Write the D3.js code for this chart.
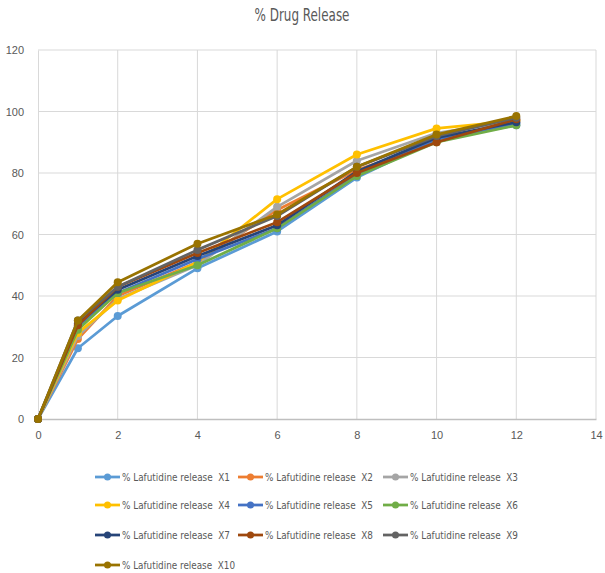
<!DOCTYPE html>
<html>
<head>
<meta charset="utf-8">
<script src="https://cdn.jsdelivr.net/npm/d3@7"></script>
<style>
  body { margin: 0; background: #fff; }
  svg { font-family: "DejaVu Sans", sans-serif; font-stretch: condensed; }
</style>
</head>
<body>
<svg width="605" height="573"></svg>
<script>
// time points (h)
var times = [0, 1, 2, 4, 6, 8, 10, 12];

var seriesNames = [
  "% Lafutidine release  X1", "% Lafutidine release  X2", "% Lafutidine release  X3",
  "% Lafutidine release  X4", "% Lafutidine release  X5", "% Lafutidine release  X6",
  "% Lafutidine release  X7", "% Lafutidine release  X8", "% Lafutidine release  X9",
  "% Lafutidine release  X10"
];

var x1 = [0, 23, 33.5, 49, 61, 78.5, 91, 95.5];
var x2 = [0, 26, 40, 51, 68, 81, 90, 97];
var x3 = [0, 27, 39, 50, 69, 84, 93, 97];
var x4 = [0, 28, 38.5, 51, 71.5, 86, 94.5, 97];
var x5 = [0, 30, 41, 52, 62, 79.5, 91, 96];
var x6 = [0, 29, 41, 50, 62, 79, 90, 95.5];
var x7 = [0, 31, 42, 53, 63, 80.5, 91.5, 96.5];
var x8 = [0, 30.5, 43, 54, 64, 80, 90, 97.5];
var x9 = [0, 32, 43, 55, 66, 82, 92, 98];
var x10 = [0, 32, 44.5, 57, 66.5, 82, 92.5, 98.5];

var allValues = [x1, x2, x3, x4, x5, x6, x7, x8, x9, x10];

var colors = ["#5B9BD5", "#ED7D31", "#A5A5A5", "#FFC000", "#4472C4",
              "#70AD47", "#264478", "#9E480E", "#636363", "#997300"];

var xTicks = [0, 2, 4, 6, 8, 10, 12, 14];
var yTicks = [0, 20, 40, 60, 80, 100, 120];

var svg = d3.select("svg");

var x = d3.scaleLinear().domain([0, 14]).range([38, 596]);
var y = d3.scaleLinear().domain([0, 120]).range([419, 50]);

// title
svg.append("text")
  .attr("x", 302)
  .attr("y", 21)
  .attr("text-anchor", "middle")
  .attr("fill", "#595959")
  .style("font-size", "17px")
  .attr("textLength", 95)
  .attr("lengthAdjust", "spacingAndGlyphs")
  .text("% Drug Release");

// gridlines
svg.append("g")
  .selectAll("line")
  .data(yTicks.slice(1))
  .enter().append("line")
  .attr("x1", x(0)).attr("x2", x(14))
  .attr("y1", function (d) { return y(d); })
  .attr("y2", function (d) { return y(d); })
  .attr("stroke", "#d9d9d9");

svg.append("g")
  .selectAll("line")
  .data(xTicks.slice(1))
  .enter().append("line")
  .attr("x1", function (d) { return x(d); })
  .attr("x2", function (d) { return x(d); })
  .attr("y1", y(0)).attr("y2", y(120))
  .attr("stroke", "#d9d9d9");

// axes
var gx = svg.append("g")
  .attr("transform", "translate(0," + y(0) + ")")
  .call(d3.axisBottom(x).tickValues(xTicks).tickSize(0).tickPadding(12));
gx.select(".domain").attr("stroke", "#bfbfbf").attr("stroke-width", 1.5);
gx.selectAll("text").attr("fill", "#595959").style("font-size", "11px");

var gy = svg.append("g")
  .attr("transform", "translate(" + x(0) + ",0)")
  .call(d3.axisLeft(y).tickValues(yTicks).tickSize(0).tickPadding(14));
gy.select(".domain").attr("stroke", "#d9d9d9");
gy.selectAll("text").attr("fill", "#595959").style("font-size", "11px");

// lines
var line = d3.line()
  .x(function (d, i) { return x(times[i]); })
  .y(function (d) { return y(d); });

allValues.forEach(function (vals, k) {
  var g = svg.append("g");
  g.append("path")
    .datum(vals)
    .attr("fill", "none")
    .attr("stroke", colors[k])
    .attr("stroke-width", 2.75)
    .attr("stroke-linejoin", "round")
    .attr("d", line);
  g.selectAll("circle")
    .data(vals)
    .enter().append("circle")
    .attr("cx", function (d, i) { return x(times[i]); })
    .attr("cy", function (d) { return y(d); })
    .attr("r", 4)
    .attr("fill", colors[k]);
});

// legend
var legendX = [95, 238, 383];
var legendY = [477, 505, 535, 565];

var legend = svg.append("g")
  .selectAll("g")
  .data(seriesNames)
  .enter().append("g")
  .attr("transform", function (d, i) {
    return "translate(" + legendX[i % 3] + "," + legendY[Math.floor(i / 3)] + ")";
  });

legend.append("line")
  .attr("x1", 0).attr("x2", 25)
  .attr("stroke", function (d, i) { return colors[i]; })
  .attr("stroke-width", 2.75);

legend.append("circle")
  .attr("cx", 12.5)
  .attr("r", 3.5)
  .attr("fill", function (d, i) { return colors[i]; });

legend.append("text")
  .attr("x", 27)
  .attr("dy", "0.35em")
  .attr("fill", "#595959")
  .style("font-size", "11px")
  .style("white-space", "pre")
  .attr("textLength", function (d) { return d.length > 24 ? 113 : 108; })
  .attr("lengthAdjust", "spacingAndGlyphs")
  .text(function (d) { return d; });
</script>
</body>
</html>
